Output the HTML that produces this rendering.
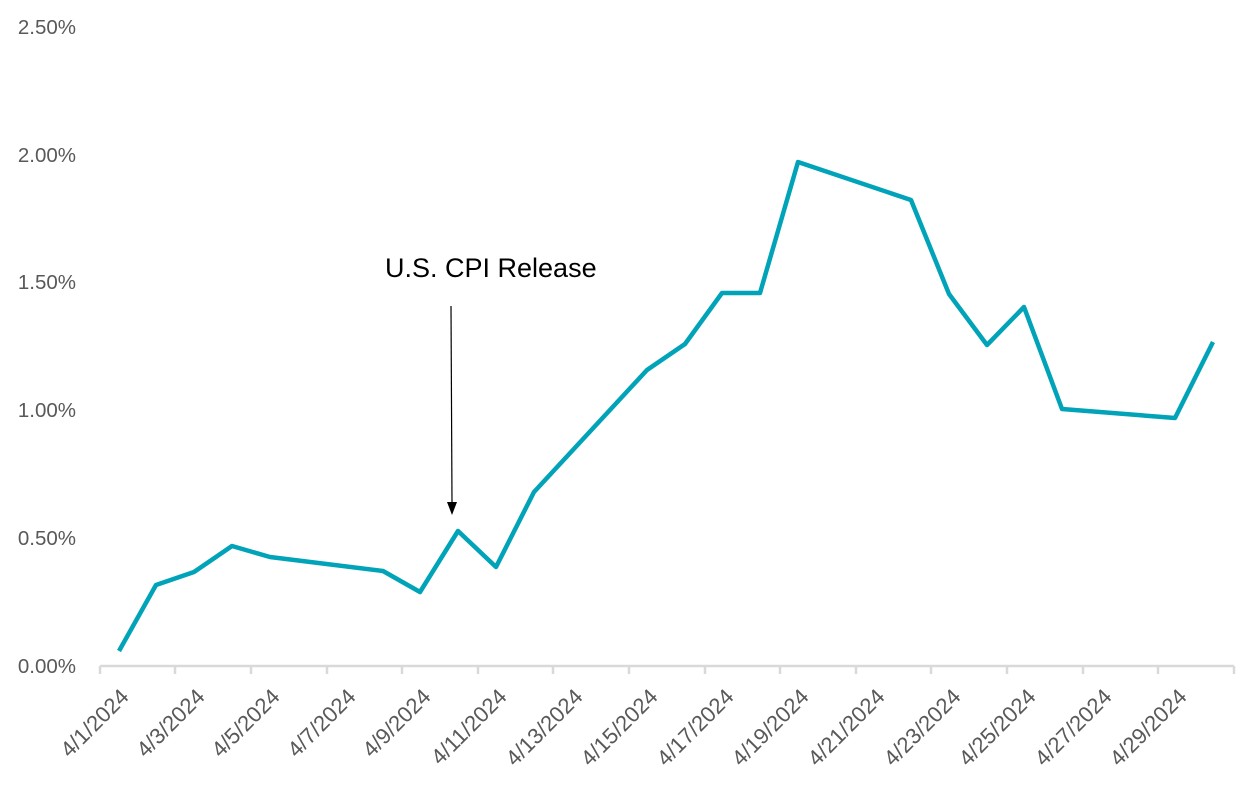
<!DOCTYPE html>
<html><head><style>body{margin:0;background:#fff}</style></head><body>
<svg width="1256" height="793" xmlns="http://www.w3.org/2000/svg" font-family="Liberation Sans, sans-serif">
<g fill="#595959" font-size="20.5" text-anchor="end">
<text x="76" y="673">0.00%</text>
<text x="76" y="545">0.50%</text>
<text x="76" y="417">1.00%</text>
<text x="76" y="289">1.50%</text>
<text x="76" y="162">2.00%</text>
<text x="76" y="34">2.50%</text>
</g>
<g stroke="#d9d9d9" stroke-width="2.5">
<line x1="100" y1="666" x2="1234" y2="666"/>
<line x1="100" y1="666" x2="100" y2="674"/><line x1="175" y1="666" x2="175" y2="674"/><line x1="251" y1="666" x2="251" y2="674"/><line x1="327" y1="666" x2="327" y2="674"/><line x1="402" y1="666" x2="402" y2="674"/><line x1="478" y1="666" x2="478" y2="674"/><line x1="553" y1="666" x2="553" y2="674"/><line x1="629" y1="666" x2="629" y2="674"/><line x1="705" y1="666" x2="705" y2="674"/><line x1="780" y1="666" x2="780" y2="674"/><line x1="856" y1="666" x2="856" y2="674"/><line x1="931" y1="666" x2="931" y2="674"/><line x1="1007" y1="666" x2="1007" y2="674"/><line x1="1083" y1="666" x2="1083" y2="674"/><line x1="1158" y1="666" x2="1158" y2="674"/><line x1="1234" y1="666" x2="1234" y2="674"/>
</g>
<g fill="#595959" font-size="22" text-anchor="end">
<text transform="translate(130,698) rotate(-45)">4/1/2024</text>
<text transform="translate(206,698) rotate(-45)">4/3/2024</text>
<text transform="translate(281,698) rotate(-45)">4/5/2024</text>
<text transform="translate(357,698) rotate(-45)">4/7/2024</text>
<text transform="translate(432,698) rotate(-45)">4/9/2024</text>
<text transform="translate(508,698) rotate(-45)">4/11/2024</text>
<text transform="translate(584,698) rotate(-45)">4/13/2024</text>
<text transform="translate(659,698) rotate(-45)">4/15/2024</text>
<text transform="translate(735,698) rotate(-45)">4/17/2024</text>
<text transform="translate(810,698) rotate(-45)">4/19/2024</text>
<text transform="translate(886,698) rotate(-45)">4/21/2024</text>
<text transform="translate(962,698) rotate(-45)">4/23/2024</text>
<text transform="translate(1037,698) rotate(-45)">4/25/2024</text>
<text transform="translate(1113,698) rotate(-45)">4/27/2024</text>
<text transform="translate(1188,698) rotate(-45)">4/29/2024</text>
</g>
<polyline fill="none" stroke="#00a3b8" stroke-width="4.5" stroke-linejoin="round" points="119,651 156,585 194,572 232,546 270,557 383,571 420,592 458,531 496,567 534,492 647,370 685,344 722,293 760,293 798,162 911,200 949,294 987,345 1024,307 1062,409 1175,418 1213,342"/>
<text x="385" y="277" font-size="27" fill="#000">U.S. CPI Release</text>
<line x1="451" y1="306" x2="452" y2="503" stroke="#000" stroke-width="1.2"/>
<polygon points="447,502 457,502 452,515" fill="#000"/>
</svg>
</body></html>
